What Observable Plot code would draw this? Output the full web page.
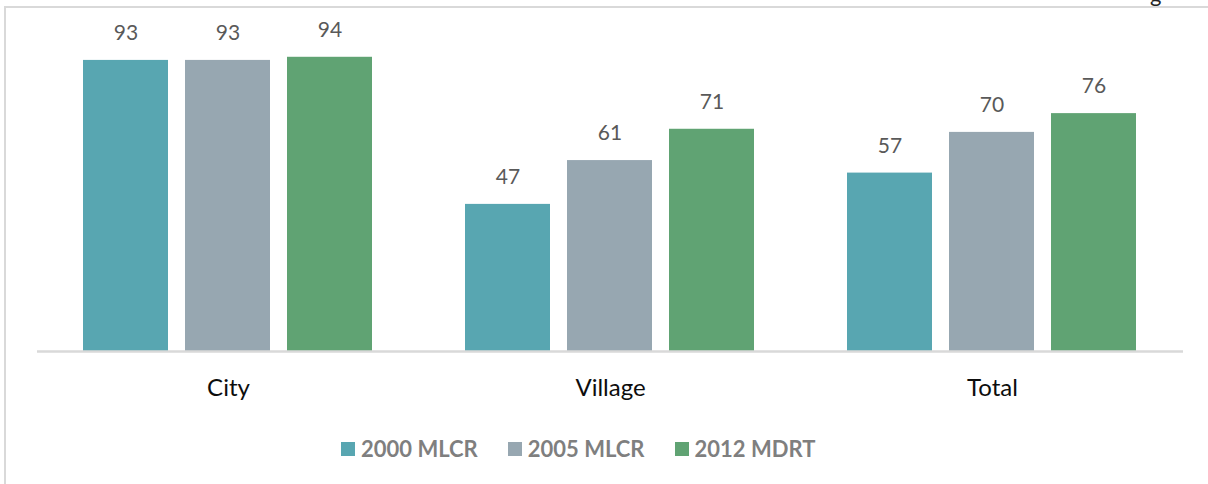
<!DOCTYPE html>
<html>
<head>
<meta charset="utf-8">
<script src="https://cdn.jsdelivr.net/npm/d3@7"></script>
<script src="https://cdn.jsdelivr.net/npm/@observablehq/plot@0.6"></script>
<style>
  html, body { margin: 0; padding: 0; background: #fff; }
  #wrap { position: relative; width: 1208px; height: 484px; overflow: hidden; font-family: Lato, "Open Sans", sans-serif; }
  #frame { position: absolute; left: 4px; top: 6px; width: 1300px; height: 600px; border-left: 2px solid #d9d9d9; border-top: 2px solid #d9d9d9; box-sizing: border-box; pointer-events: none; }
  #frag { position: absolute; left: 1150px; top: 0; height: 6px; overflow: hidden; width: 30px; }
  #frag span { position: absolute; top: -20px; font-size: 22px; color: #222; font-family: Lato, sans-serif; }
  #chart { position: absolute; left: 0; top: 0; }
  #legend { position: absolute; left: 341px; top: 435px; display: flex; gap: 30px; align-items: center; }
  .item { display: flex; align-items: center; gap: 6px; font-weight: bold; font-size: 22px; color: #7f7f7f; }
  .sw { width: 14px; height: 14px; display: inline-block; }
</style>
</head>
<body>
<div id="wrap">
  <div id="frag"><span>g</span></div>
  <div id="chart"></div>
  <div id="legend"></div>
  <div id="frame"></div>
</div>
<script>
const categories = ["City", "Village", "Total"];
const series = ["2000 MLCR", "2005 MLCR", "2012 MDRT"];
const values2000 = [93, 47, 57];
const values2005 = [93, 61, 70];
const values2012 = [94, 71, 76];
const colors = ["#58a6b1", "#97a7b1", "#60a373"];

const seriesValues = [values2000, values2005, values2012];
const data = [];
categories.forEach((c, i) => {
  series.forEach((s, j) => {
    data.push({cat: c, series: s, value: seriesValues[j][i]});
  });
});

const chart = Plot.plot({
  width: 1208,
  height: 420,
  marginLeft: 36,
  marginRight: 25,
  marginTop: 38,
  marginBottom: 69,
  style: { fontFamily: "Lato, 'Open Sans', sans-serif", background: "transparent" },
  fx: { domain: categories, padding: 0, label: null },
  x: { domain: series, paddingInner: 0.165, paddingOuter: 0.44, axis: null },
  y: { domain: [0, 100], axis: null },
  color: { domain: series, range: colors },
  marks: [
    Plot.barY(data, { fx: "cat", x: "series", y: "value", fill: "series" }),
    Plot.ruleY([0], { stroke: "#d9d9d9", strokeWidth: 2.5 }),
    Plot.text(data, { fx: "cat", x: "series", y: "value", text: d => String(d.value), dy: -27, fontSize: 21, fill: "#595959" }),
    Plot.axisFx({ anchor: "bottom", tickSize: 0, tickPadding: 27, fontSize: 24, color: "#0d0d0d", label: null })
  ]
});
document.getElementById("chart").appendChild(chart);

const legend = document.getElementById("legend");
series.forEach((s, i) => {
  const it = document.createElement("div");
  it.className = "item";
  const sw = document.createElement("span");
  sw.className = "sw";
  sw.style.background = colors[i];
  const t = document.createElement("span");
  t.textContent = s;
  it.appendChild(sw);
  it.appendChild(t);
  legend.appendChild(it);
});
</script>
</body>
</html>
